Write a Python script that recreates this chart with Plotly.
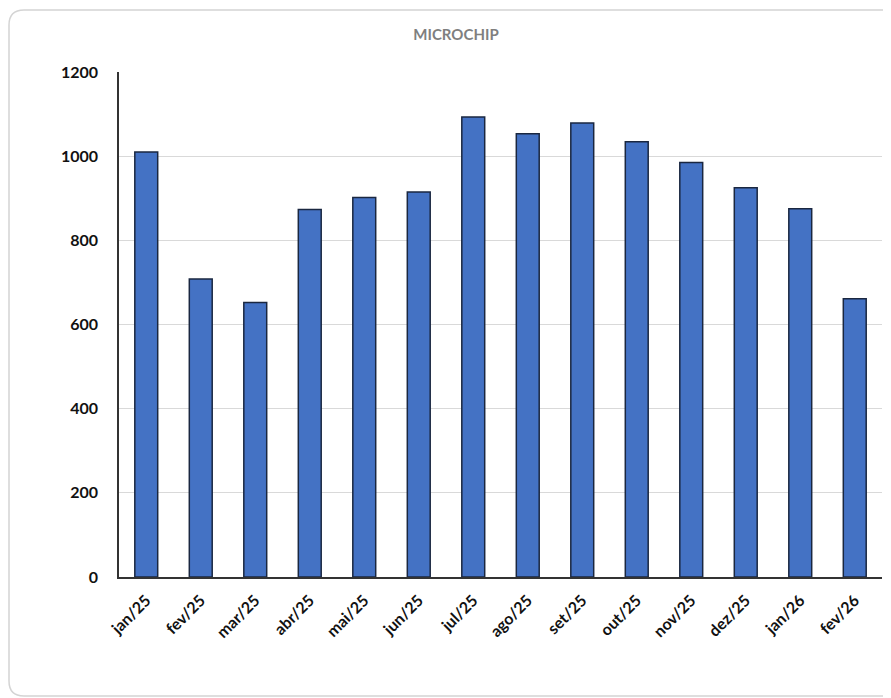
import plotly.graph_objects as go

categories = ["jan/25", "fev/25", "mar/25", "abr/25", "mai/25", "jun/25", "jul/25",
              "ago/25", "set/25", "out/25", "nov/25", "dez/25", "jan/26", "fev/26"]
values = [1010, 708, 652, 873, 902, 915, 1093, 1053, 1079, 1034, 985, 925, 875, 661]
y_ticks = [0, 200, 400, 600, 800, 1000, 1200]
title_text = "MICROCHIP"

OFF = 8  # page body margin
W, H = 891 - OFF, 698 - OFF
L, T = 119 - OFF, 72 - OFF
R = W - (882 - OFF)
B = H - (577 - OFF)
pw, ph = W - L - R, H - T - B

def px(x):
    return (x - OFF - L) / pw

def py(y):
    return (H - B - (y - OFF)) / ph

fig = go.Figure(go.Bar(
    x=categories, y=values, width=0.42,
    marker=dict(color="#4472C4", line=dict(color="#1a2740", width=1.5)),
))

# rounded chart border
path = (f"M {px(900)} {py(10)} L {px(24)} {py(10)} Q {px(9)} {py(10)} {px(9)} {py(25)} "
        f"L {px(9)} {py(681)} Q {px(9)} {py(696)} {px(24)} {py(696)} L {px(900)} {py(696)}")

fig.update_layout(
    width=W, height=H,
    margin=dict(l=L, r=R, t=T, b=B),
    paper_bgcolor="white", plot_bgcolor="white",
    showlegend=False,
    title=dict(text=f"<b>{title_text}</b>", x=(456 - OFF) / W, xanchor="center",
               y=1 - (35 - OFF) / H, yanchor="middle",
               font=dict(family="Lato", size=15, color="#7f7f7f")),
    shapes=[dict(type="path", path=path, xref="paper", yref="paper",
                 line=dict(color="#d4d4d4", width=1.5), layer="below")],
)
fig.update_xaxes(
    type="category", showline=True, linecolor="#333333", linewidth=1.5,
    tickangle=-45, ticks="", showgrid=False,
    tickfont=dict(family="Lato", size=16, color="#111111", weight="bold"),
    ticklabelstandoff=6,
)
fig.update_yaxes(
    range=[0, 1200], tickvals=y_ticks, showline=True, linecolor="#333333", linewidth=1.5,
    gridcolor="#d9d9d9", gridwidth=1.2, ticks="", zeroline=False,
    tickfont=dict(family="Lato", size=16, color="#111111", weight="bold"),
    ticklabelstandoff=16,
)
fig.write_html("out.html")
